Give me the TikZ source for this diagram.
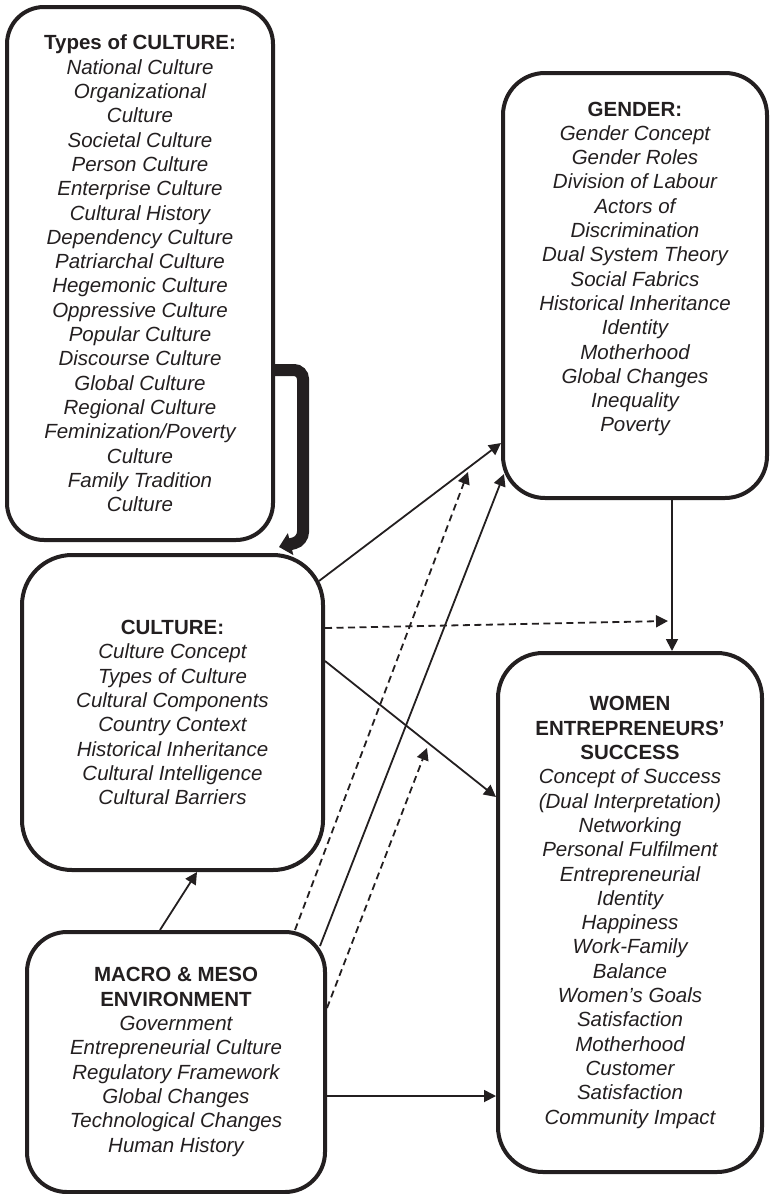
\documentclass[tikz,border=0pt]{standalone}
\usepackage{fontspec}
\setmainfont{Liberation Sans}
\usetikzlibrary{arrows.meta,calc}
\definecolor{ink}{RGB}{35,31,32}
\begin{document}
\begin{tikzpicture}[x=1pt,y=-1pt,
  box/.style={draw=ink, line width=4pt, inner sep=0pt, align=center, text=ink,
    font=\fontsize{20.5}{24.3}\selectfont\itshape},
  link/.style={draw=ink, line width=1.8pt, -{Triangle[length=12pt,width=12pt]}},
  dlink/.style={link, dash pattern=on 7pt off 4.5pt},
  hook/.style={draw=ink, line width=12pt, rounded corners=9pt,
    -{Triangle[length=12pt,width=22pt]}},
]
\useasboundingbox (0,0) rectangle (770,1194);

% --- boxes ---
\node[box, minimum width=266pt, minimum height=533pt, rounded corners=37pt]
  (types) at (140,273.5) {\textbf{\upshape Types of CULTURE:}\\
  National Culture\\Organizational\\Culture\\Societal Culture\\Person Culture\\
  Enterprise Culture\\Cultural History\\Dependency Culture\\Patriarchal Culture\\
  Hegemonic Culture\\Oppressive Culture\\Popular Culture\\Discourse Culture\\
  Global Culture\\Regional Culture\\Feminization/Poverty\\Culture\\
  Family Tradition\\Culture};

\node[box, minimum width=264pt, minimum height=425pt, rounded corners=42pt]
  (gender) at (635,285.5) {\textbf{\upshape GENDER:}\\
  Gender Concept\\Gender Roles\\Division of Labour\\Actors of\\Discrimination\\
  Dual System Theory\\Social Fabrics\\Historical Inheritance\\Identity\\
  Motherhood\\Global Changes\\Inequality\\Poverty\\[13pt]\mbox{}};

\node[box, minimum width=301pt, minimum height=315pt, rounded corners=50pt]
  (culture) at (172.5,712.5) {\textbf{\upshape CULTURE:}\\
  Culture Concept\\Types of Culture\\Cultural Components\\Country Context\\
  Historical Inheritance\\Cultural Intelligence\\Cultural Barriers};

\node[box, minimum width=264pt, minimum height=519pt, rounded corners=45pt]
  (women) at (630,912.5) {\textbf{\upshape WOMEN}\\
  \textbf{\upshape ENTREPRENEURS’}\\\textbf{\upshape SUCCESS}\\
  Concept of Success\\(Dual Interpretation)\\Networking\\Personal Fulfilment\\
  Entrepreneurial\\Identity\\Happiness\\Work-Family\\Balance\\Women’s Goals\\
  Satisfaction\\Motherhood\\Customer\\Satisfaction\\Community Impact};

\node[box, minimum width=298pt, minimum height=260pt, rounded corners=40pt]
  (macro) at (176,1062) {\textbf{\upshape MACRO \& MESO}\\
  \textbf{\upshape ENVIRONMENT}\\Government\\Entrepreneurial Culture\\
  Regulatory Framework\\Global Changes\\Technological Changes\\Human History};

% --- free ends of the hook and of the moderating arrows ---
\coordinate (hooktip) at (279,547);
\coordinate (modA) at (468,472);
\coordinate (modB) at (427,748);
\coordinate (modC) at (668,621);

% --- connectors ---
\draw[hook] (types.east |- 0,370) -- (303,370) -- (303,541) -- (hooktip);

\draw[link] ($(culture.north east)+(-6,28)$) -- (gender.west |- 0,443);
\draw[dlink] (culture.east |- 0,628) -- (modC);
\draw[link] (culture.east |- 0,661) -- (women.west |- 0,797);

\draw[link] (gender.south -| 672,0) -- (women.north -| 672,0);

\draw[link] (macro.north -| 160,0) -- (culture.south -| 197,0);
\draw[dlink] (macro.north -| 295,0) -- (modA);
\draw[link] ($(macro.north east)+(-7,16)$) -- ($(gender.south west)+(3,-26)$);
\draw[dlink] (macro.east |- 0,1008) -- (modB);
\draw[link] (macro.east |- 0,1096) -- (women.west |- 0,1096);
\end{tikzpicture}
\end{document}
